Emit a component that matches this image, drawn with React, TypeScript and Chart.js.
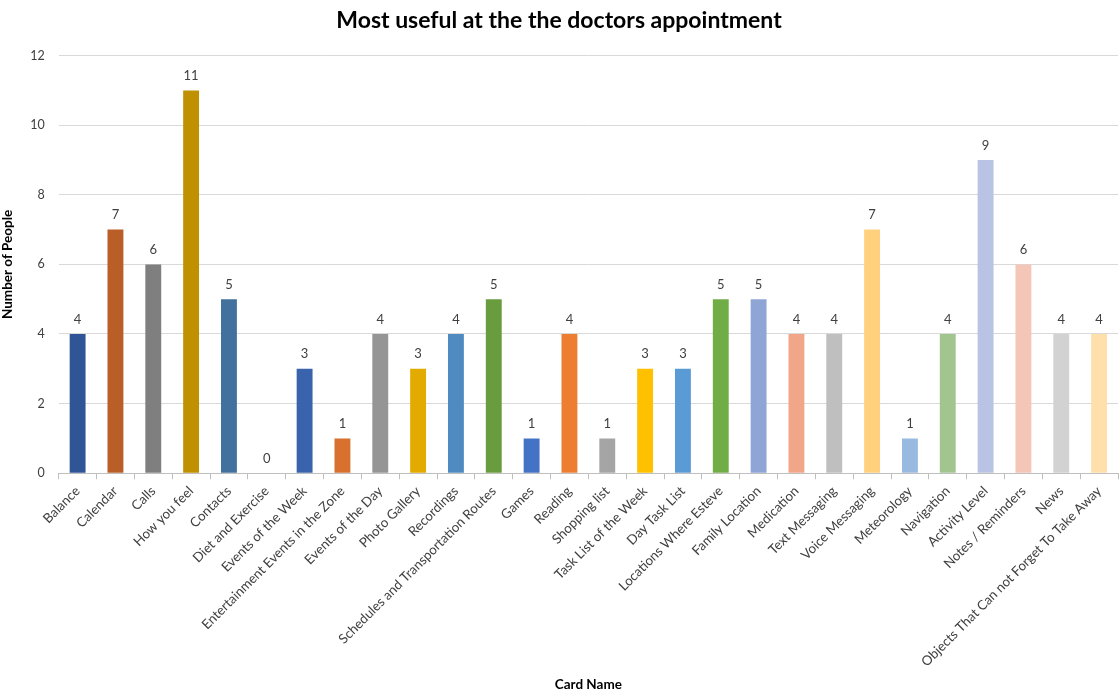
import React, { useEffect, useRef } from "react";
import { Chart, registerables } from "chart.js";

Chart.register(...registerables);

const categories: string[] = [
  "Balance",
  "Calendar",
  "Calls",
  "How you feel",
  "Contacts",
  "Diet and Exercise",
  "Events of the Week",
  "Entertainment Events in the Zone",
  "Events of the Day",
  "Photo Gallery",
  "Recordings",
  "Schedules and Transportation Routes",
  "Games",
  "Reading",
  "Shopping list",
  "Task List of the Week",
  "Day Task List",
  "Locations Where Esteve",
  "Family Location",
  "Medication",
  "Text Messaging",
  "Voice Messaging",
  "Meteorology",
  "Navigation",
  "Activity Level",
  "Notes / Reminders",
  "News",
  "Objects That Can not Forget To Take Away",
];

const values: number[] = [4, 7, 6, 11, 5, 0, 3, 1, 4, 3, 4, 5, 1, 4, 1, 3, 3, 5, 5, 4, 4, 7, 1, 4, 9, 6, 4, 4];

const barColors: string[] = [
  "#2F5597",
  "#B85E26",
  "#7F7F7F",
  "#BF9000",
  "#41719C",
  "#264478",
  "#3A63AE",
  "#D9712E",
  "#959595",
  "#E3AA00",
  "#4F8BC0",
  "#689C3E",
  "#4472C4",
  "#ED7D31",
  "#A5A5A5",
  "#FFC000",
  "#5B9BD5",
  "#70AD47",
  "#8FA5D6",
  "#F1A688",
  "#BFBFBF",
  "#FFD17F",
  "#9AB9E0",
  "#A2C48F",
  "#B9C3E3",
  "#F4C6B7",
  "#D2D2D2",
  "#FFDFAA",
];

const yTicks: number[] = [0, 2, 4, 6, 8, 10, 12];

const FONT = "Lato, 'Open Sans', sans-serif";

const valueLabels = {
  id: "valueLabels",
  afterDatasetsDraw(chart: any) {
    const ctx = chart.ctx;
    const meta = chart.getDatasetMeta(0);
    ctx.save();
    ctx.font = `13px ${FONT}`;
    ctx.fillStyle = "#404040";
    ctx.textAlign = "center";
    ctx.textBaseline = "bottom";
    meta.data.forEach((bar: any, i: number) => {
      const v = chart.data.datasets[0].data[i];
      ctx.fillText(String(v), bar.x, bar.y - 8);
    });
    ctx.restore();
  },
};

export default function App() {
  const canvasRef = useRef<HTMLCanvasElement | null>(null);

  useEffect(() => {
    if (!canvasRef.current) return;
    const chart = new Chart(canvasRef.current, {
      type: "bar",
      data: {
        labels: categories,
        datasets: [
          {
            data: values,
            backgroundColor: barColors,
            borderWidth: 0,
            categoryPercentage: 1,
            barPercentage: 0.42,
          },
        ],
      },
      plugins: [valueLabels],
      options: {
        animation: false,
        responsive: true,
        maintainAspectRatio: false,
        layout: { padding: { left: 0, right: 1, top: 0, bottom: 0 } },
        plugins: {
          legend: { display: false },
          tooltip: { enabled: false },
          title: {
            display: true,
            text: "Most useful at the the doctors appointment",
            color: "#000000",
            font: { family: FONT, size: 23, weight: "bold" },
            padding: { top: 7, bottom: 21 },
          },
        },
        scales: {
          x: {
            grid: {
              display: true,
              offset: true,
              drawOnChartArea: false,
              drawTicks: true,
              tickLength: 6,
              color: "#BFBFBF",
            },
            border: { display: true, color: "#BFBFBF" },
            ticks: {
              color: "#404040",
              font: { family: FONT, size: 13.3 },
              maxRotation: 45,
              minRotation: 45,
              autoSkip: false,
              padding: 4,
            },
            title: {
              display: true,
              text: "Card Name",
              color: "#000000",
              font: { family: FONT, size: 13.5, weight: "bold" },
              padding: { top: 3, bottom: 0 },
            },
          },
          y: {
            min: 0,
            max: 12,
            afterBuildTicks(axis: any) {
              axis.ticks = yTicks.map((v) => ({ value: v }));
            },
            grid: {
              color: "#D9D9D9",
              drawTicks: false,
            },
            border: { display: false },
            ticks: {
              color: "#404040",
              font: { family: FONT, size: 12.5 },
              padding: 14,
            },
            title: {
              display: true,
              text: "Number of People",
              color: "#000000",
              font: { family: FONT, size: 13.5, weight: "bold" },
              padding: { top: 0, bottom: 0 },
            },
          },
        },
      },
    });
    return () => chart.destroy();
  }, []);

  return (
    <div style={{ position: "fixed", left: 0, top: 0, width: 1119, height: 693, background: "#ffffff" }}>
      <canvas ref={canvasRef} />
    </div>
  );
}
